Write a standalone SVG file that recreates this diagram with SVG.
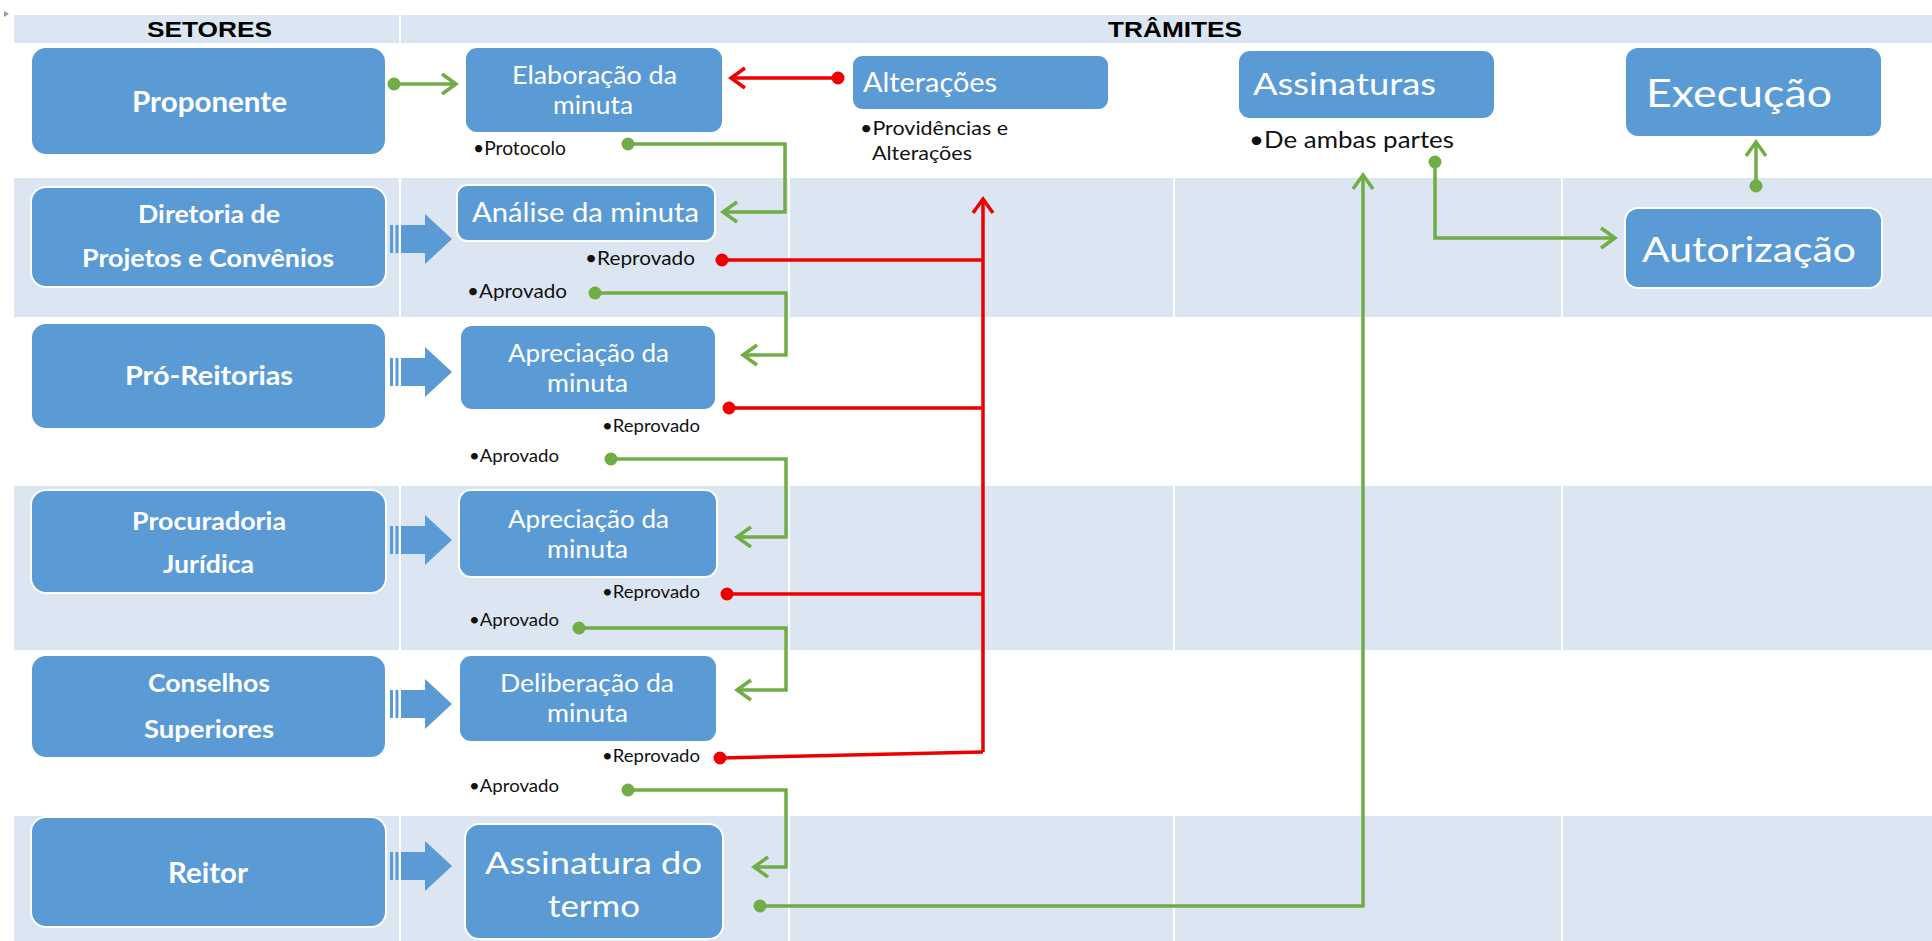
<svg xmlns="http://www.w3.org/2000/svg" width="1932" height="941" viewBox="0 0 1932 941">
<style>
.band{fill:#DCE6F2}
.sep{stroke:#ffffff;stroke-width:2}
.box{fill:#5B9BD5;stroke:#ffffff;stroke-width:2}
.blk{fill:#5B9BD5}
.hd{font-family:"Liberation Sans",Arial,sans-serif;font-weight:bold;font-size:22px;fill:#000}
.lt{font-family:Lato,"Open Sans",sans-serif;font-weight:bold;fill:#ffffff}
.rt{font-family:Lato,"Open Sans",sans-serif;font-weight:normal;fill:#ffffff}
.lb{font-family:Lato,"Open Sans",sans-serif;font-weight:normal;fill:#111111}
.g{fill:none;stroke:#70AD47;stroke-width:3.5}
.r{fill:none;stroke:#EE0000;stroke-width:3.5}
</style>
<defs>
<marker id="ga" markerUnits="userSpaceOnUse" viewBox="0 0 20 24" markerWidth="20" markerHeight="24" refX="17" refY="12" orient="auto">
<path d="M3,2 L17,12 L3,22" fill="none" stroke="#70AD47" stroke-width="3.5"/>
</marker>
<marker id="ra" markerUnits="userSpaceOnUse" viewBox="0 0 20 24" markerWidth="20" markerHeight="24" refX="17" refY="12" orient="auto">
<path d="M3,2 L17,12 L3,22" fill="none" stroke="#EE0000" stroke-width="3.5"/>
</marker>
<marker id="gd" markerUnits="userSpaceOnUse" viewBox="0 0 16 16" markerWidth="16" markerHeight="16" refX="8" refY="8">
<circle cx="8" cy="8" r="6.5" fill="#70AD47"/>
</marker>
<marker id="rd" markerUnits="userSpaceOnUse" viewBox="0 0 16 16" markerWidth="16" markerHeight="16" refX="8" refY="8">
<circle cx="8" cy="8" r="6.5" fill="#EE0000"/>
</marker>
<g id="blockArrow">
<rect x="0" y="-14" width="3" height="28"/>
<rect x="5.5" y="-14" width="3" height="28"/>
<rect x="11" y="-14" width="25" height="28"/>
<polygon points="35,-25 62,0 35,25"/>
</g>
</defs>

<rect width="1932" height="941" fill="#ffffff"/>
<path d="M4,11 L9,14 L4,17 Z" fill="#999999"/>

<g id="background">
<rect class="band" x="14" y="15" width="1918" height="28"/>
<rect class="band" x="14" y="178" width="1918" height="139"/>
<rect class="band" x="14" y="486" width="1918" height="164"/>
<rect class="band" x="14" y="816" width="1918" height="125"/>
<line class="sep" x1="400" y1="15" x2="400" y2="941"/>
<line class="sep" x1="789" y1="43" x2="789" y2="941"/>
<line class="sep" x1="1174" y1="43" x2="1174" y2="941"/>
<line class="sep" x1="1562" y1="43" x2="1562" y2="941"/>
<text class="hd" x="147" y="37" textLength="125" lengthAdjust="spacingAndGlyphs">SETORES</text>
<text class="hd" x="1108" y="37" textLength="134" lengthAdjust="spacingAndGlyphs">TRÂMITES</text>
</g>

<g id="block-arrows" class="blk" fill="#5B9BD5">
<use href="#blockArrow" x="390" y="239"/>
<use href="#blockArrow" x="390" y="372"/>
<use href="#blockArrow" x="390" y="540"/>
<use href="#blockArrow" x="390" y="704"/>
<use href="#blockArrow" x="390" y="866"/>
</g>

<g id="proponente">
<rect class="box" x="31" y="47" width="355" height="108" rx="15"/>
<text class="lt" x="132" y="112" font-size="28" textLength="155" lengthAdjust="spacingAndGlyphs">Proponente</text>
</g>
<g id="diretoria">
<rect class="box" x="31" y="187" width="355" height="100" rx="15"/>
<text class="lt" x="138" y="223" font-size="24" textLength="142" lengthAdjust="spacingAndGlyphs">Diretoria de</text>
<text class="lt" x="82" y="267" font-size="24" textLength="252" lengthAdjust="spacingAndGlyphs">Projetos e Convênios</text>
</g>
<g id="pro-reitorias">
<rect class="box" x="31" y="323" width="355" height="106" rx="15"/>
<text class="lt" x="125" y="385" font-size="26" textLength="168" lengthAdjust="spacingAndGlyphs">Pró-Reitorias</text>
</g>
<g id="procuradoria">
<rect class="box" x="31" y="490" width="355" height="103" rx="15"/>
<text class="lt" x="132" y="530" font-size="25" textLength="154" lengthAdjust="spacingAndGlyphs">Procuradoria</text>
<text class="lt" x="163" y="573" font-size="25" textLength="91" lengthAdjust="spacingAndGlyphs">Jurídica</text>
</g>
<g id="conselhos">
<rect class="box" x="31" y="655" width="355" height="103" rx="15"/>
<text class="lt" x="148" y="692" font-size="25" textLength="122" lengthAdjust="spacingAndGlyphs">Conselhos</text>
<text class="lt" x="144" y="738" font-size="25" textLength="130" lengthAdjust="spacingAndGlyphs">Superiores</text>
</g>
<g id="reitor">
<rect class="box" x="31" y="817" width="355" height="110" rx="15"/>
<text class="lt" x="168" y="883" font-size="28" textLength="80" lengthAdjust="spacingAndGlyphs">Reitor</text>
</g>

<g id="elaboracao">
<rect class="box" x="465" y="47" width="258" height="86" rx="12"/>
<text class="rt" x="512" y="84" font-size="25" textLength="165" lengthAdjust="spacingAndGlyphs">Elaboração da</text>
<text class="rt" x="553" y="114" font-size="25" textLength="80" lengthAdjust="spacingAndGlyphs">minuta</text>
<text class="lb" x="473" y="155" font-size="19" textLength="93" lengthAdjust="spacingAndGlyphs">•Protocolo</text>
</g>
<g id="analise">
<rect class="box" x="457" y="185" width="258" height="56" rx="10"/>
<text class="rt" x="472" y="222" font-size="27" textLength="227" lengthAdjust="spacingAndGlyphs">Análise da minuta</text>
<text class="lb" x="585" y="265" font-size="20" textLength="110" lengthAdjust="spacingAndGlyphs">•Reprovado</text>
<text class="lb" x="467" y="298" font-size="20" textLength="100" lengthAdjust="spacingAndGlyphs">•Aprovado</text>
</g>
<g id="apreciacao-pro">
<rect class="box" x="460" y="325" width="256" height="85" rx="12"/>
<text class="rt" x="508" y="362" font-size="25" textLength="161" lengthAdjust="spacingAndGlyphs">Apreciação da</text>
<text class="rt" x="547" y="392" font-size="25" textLength="81" lengthAdjust="spacingAndGlyphs">minuta</text>
<text class="lb" x="602" y="432" font-size="18" textLength="98" lengthAdjust="spacingAndGlyphs">•Reprovado</text>
<text class="lb" x="469" y="462" font-size="18" textLength="90" lengthAdjust="spacingAndGlyphs">•Aprovado</text>
</g>
<g id="apreciacao-proc">
<rect class="box" x="459" y="490" width="258" height="87" rx="12"/>
<text class="rt" x="508" y="528" font-size="25" textLength="161" lengthAdjust="spacingAndGlyphs">Apreciação da</text>
<text class="rt" x="547" y="558" font-size="25" textLength="81" lengthAdjust="spacingAndGlyphs">minuta</text>
<text class="lb" x="602" y="598" font-size="18" textLength="98" lengthAdjust="spacingAndGlyphs">•Reprovado</text>
<text class="lb" x="469" y="626" font-size="18" textLength="90" lengthAdjust="spacingAndGlyphs">•Aprovado</text>
</g>
<g id="deliberacao">
<rect class="box" x="459" y="655" width="258" height="87" rx="12"/>
<text class="rt" x="500" y="692" font-size="25" textLength="174" lengthAdjust="spacingAndGlyphs">Deliberação da</text>
<text class="rt" x="547" y="722" font-size="25" textLength="81" lengthAdjust="spacingAndGlyphs">minuta</text>
<text class="lb" x="602" y="762" font-size="18" textLength="98" lengthAdjust="spacingAndGlyphs">•Reprovado</text>
<text class="lb" x="469" y="792" font-size="18" textLength="90" lengthAdjust="spacingAndGlyphs">•Aprovado</text>
</g>
<g id="assinatura-termo">
<rect class="box" x="465" y="824" width="258" height="115" rx="14"/>
<text class="rt" x="485" y="874" font-size="31" textLength="217" lengthAdjust="spacingAndGlyphs">Assinatura do</text>
<text class="rt" x="548" y="917" font-size="31" textLength="92" lengthAdjust="spacingAndGlyphs">termo</text>
</g>
<g id="alteracoes">
<rect class="box" x="852" y="55" width="257" height="55" rx="10"/>
<text class="rt" x="863" y="92" font-size="26" textLength="134" lengthAdjust="spacingAndGlyphs">Alterações</text>
<text class="lb" x="860" y="135" font-size="20" textLength="148" lengthAdjust="spacingAndGlyphs">•Providências e</text>
<text class="lb" x="872" y="160" font-size="20" textLength="100" lengthAdjust="spacingAndGlyphs">Alterações</text>
</g>
<g id="assinaturas">
<rect class="box" x="1238" y="50" width="257" height="69" rx="12"/>
<text class="rt" x="1253" y="95" font-size="30" textLength="183" lengthAdjust="spacingAndGlyphs">Assinaturas</text>
<text class="lb" x="1249" y="148" font-size="23" textLength="205" lengthAdjust="spacingAndGlyphs">•De ambas partes</text>
</g>
<g id="execucao">
<rect class="box" x="1625" y="47" width="257" height="90" rx="13"/>
<text class="rt" x="1646" y="107" font-size="38" textLength="186" lengthAdjust="spacingAndGlyphs">Execução</text>
</g>
<g id="autorizacao">
<rect class="box" x="1625" y="208" width="257" height="80" rx="13"/>
<text class="rt" x="1642" y="262" font-size="35" textLength="214" lengthAdjust="spacingAndGlyphs">Autorização</text>
</g>

<g id="connectors">
<polyline class="g" points="394,84 456,84" marker-start="url(#gd)" marker-end="url(#ga)"/>
<polyline class="g" points="628,144 785,144 785,212 723,212" marker-start="url(#gd)" marker-end="url(#ga)"/>
<polyline class="g" points="595,293 786,293 786,355 743,355" marker-start="url(#gd)" marker-end="url(#ga)"/>
<polyline class="g" points="611,459 786,459 786,537 737,537" marker-start="url(#gd)" marker-end="url(#ga)"/>
<polyline class="g" points="579,628 786,628 786,690 737,690" marker-start="url(#gd)" marker-end="url(#ga)"/>
<polyline class="g" points="628,790 786,790 786,867 754,867" marker-start="url(#gd)" marker-end="url(#ga)"/>
<polyline class="g" points="760,906 1363,906 1363,175" stroke-width="3" marker-start="url(#gd)" marker-end="url(#ga)"/>
<polyline class="g" points="1435,162 1435,238 1615,238" marker-start="url(#gd)" marker-end="url(#ga)"/>
<polyline class="g" points="1756,186 1756,142" marker-start="url(#gd)" marker-end="url(#ga)"/>
<polyline class="r" points="838,78 731,78" marker-start="url(#rd)" marker-end="url(#ra)"/>
<polyline class="r" points="983,752 983,199" marker-end="url(#ra)"/>
<polyline class="r" points="722,260 983,260" marker-start="url(#rd)"/>
<polyline class="r" points="729,408 983,408" marker-start="url(#rd)"/>
<polyline class="r" points="727,594 983,594" marker-start="url(#rd)"/>
<polyline class="r" points="720,758 983,752" marker-start="url(#rd)"/>
</g>
</svg>
